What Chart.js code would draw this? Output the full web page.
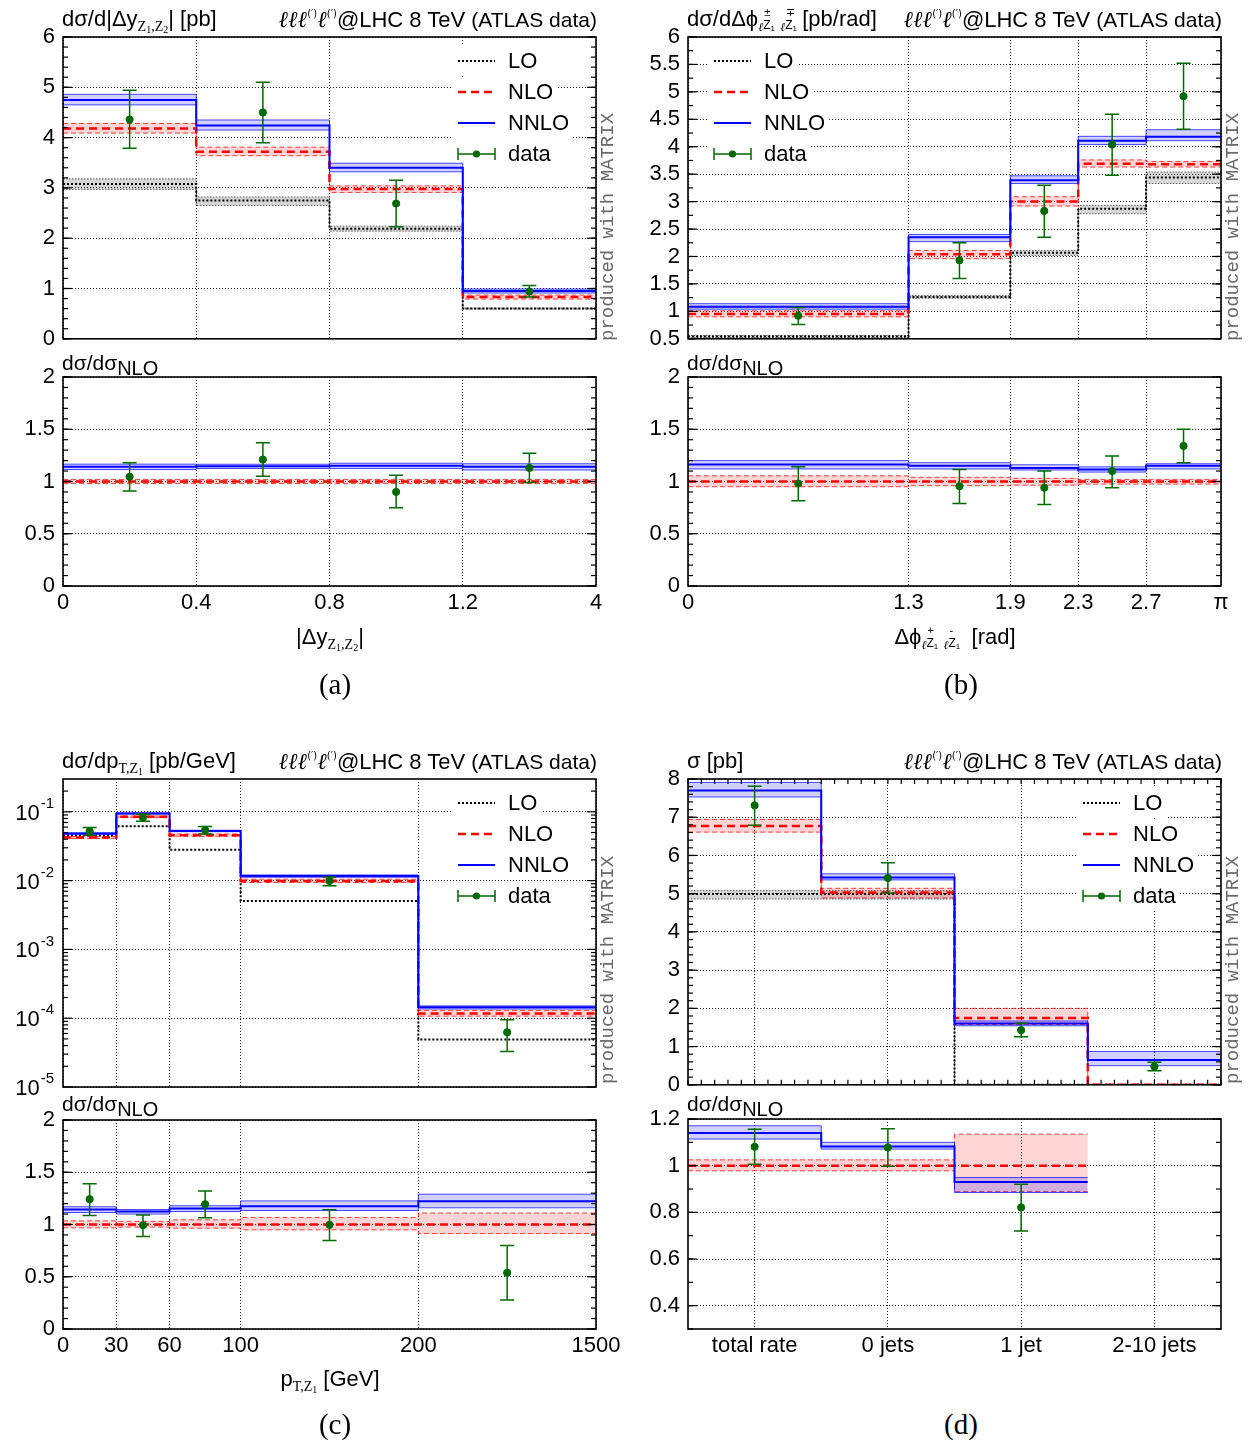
<!DOCTYPE html>
<html><head><meta charset="utf-8">
<script src="https://cdn.jsdelivr.net/npm/chart.js@4.4.1/dist/chart.umd.min.js"></script>
<style>
html,body{margin:0;padding:0;background:#fff}
body{width:1250px;height:1450px;position:relative;overflow:hidden;font-family:"Liberation Sans",Arial,sans-serif;color:#000}
canvas{position:absolute;z-index:1}
.t{position:absolute;white-space:nowrap;font-size:22px;line-height:1;z-index:5}
.rl{font-size:21px}
.sr{font-family:"Liberation Serif",serif;font-size:14px;position:relative;top:5px}
.sr small{font-size:10px;position:relative;top:2px}
.nlo{font-size:20px;position:relative;top:5px}
.ell{font-family:"DejaVu Serif",serif;font-style:italic;font-size:23px}
.pr{font-size:10px;position:relative;top:-10px;font-family:"DejaVu Sans",sans-serif}
.atl{font-size:21px}
.ax{font-size:22px}
.cap{font-family:"Liberation Serif",serif;font-size:29px}
.prod{position:absolute;white-space:nowrap;font-family:"Liberation Mono",monospace;font-size:19px;color:#6a6a6a;transform:rotate(-90deg);transform-origin:0 0;line-height:1;z-index:5}
.stk{display:inline-block;position:relative;width:17px;height:10px}
.stk .u{position:absolute;left:1px;top:-9px;font-size:11px}
.stk .d{position:absolute;left:0;top:3px;font-size:12px}
.stk .d small{font-size:8px;position:relative;top:2px}
.le{font-family:"DejaVu Serif",serif;font-style:italic;font-size:12px;position:relative;top:5px}
</style></head><body>

<!-- titles panel a -->
<div class="t" style="left:62px;top:8px">dσ/d|Δy<span class="sr">Z<small>1</small>,Z<small>2</small></span>| [pb]</div>
<div class="t" style="right:653px;top:8px"><span class="ell">ℓℓℓ</span><span class="pr">(′)</span><span class="ell">ℓ</span><span class="pr">(′)</span>@LHC 8 TeV <span class="atl">(ATLAS data)</span></div>
<div class="t rl" style="left:62px;top:352px">dσ/dσ<span class="nlo">NLO</span></div>
<div class="t ax" style="left:330px;top:626px;transform:translateX(-50%)">|Δy<span class="sr">Z<small>1</small>,Z<small>2</small></span>|</div>
<div class="t cap" style="left:335px;top:670px;transform:translateX(-50%)">(a)</div>
<div class="prod" style="left:599px;top:341px">produced with MATRIX</div>

<!-- titles panel b -->
<div class="t" style="left:687px;top:8px">dσ/dΔϕ<span class="le">ℓ</span><span class="stk"><span class="u">±</span><span class="d">Z<small>1</small></span></span><span class="le">ℓ</span><span class="stk"><span class="u">∓</span><span class="d">Z<small>1</small></span></span>[pb/rad]</div>
<div class="t" style="right:28px;top:8px"><span class="ell">ℓℓℓ</span><span class="pr">(′)</span><span class="ell">ℓ</span><span class="pr">(′)</span>@LHC 8 TeV <span class="atl">(ATLAS data)</span></div>
<div class="t rl" style="left:687px;top:352px">dσ/dσ<span class="nlo">NLO</span></div>
<div class="t ax" style="left:955px;top:626px;transform:translateX(-50%)">Δϕ<span class="le">ℓ</span><span class="stk"><span class="u">+</span><span class="d">Z<small>1</small></span></span><span class="le">ℓ</span><span class="stk"><span class="u">-</span><span class="d">Z<small>1</small></span></span> [rad]</div>
<div class="t cap" style="left:961px;top:670px;transform:translateX(-50%)">(b)</div>
<div class="prod" style="left:1224px;top:341px">produced with MATRIX</div>

<!-- titles panel c -->
<div class="t" style="left:62px;top:750px">dσ/dp<span class="sr">T,Z<small>1</small></span> [pb/GeV]</div>
<div class="t" style="right:653px;top:750px"><span class="ell">ℓℓℓ</span><span class="pr">(′)</span><span class="ell">ℓ</span><span class="pr">(′)</span>@LHC 8 TeV <span class="atl">(ATLAS data)</span></div>
<div class="t rl" style="left:62px;top:1093px">dσ/dσ<span class="nlo">NLO</span></div>
<div class="t ax" style="left:330px;top:1368px;transform:translateX(-50%)">p<span class="sr">T,Z<small>1</small></span> [GeV]</div>
<div class="t cap" style="left:335px;top:1410px;transform:translateX(-50%)">(c)</div>
<div class="prod" style="left:599px;top:1084px">produced with MATRIX</div>

<!-- titles panel d -->
<div class="t" style="left:687px;top:750px">σ [pb]</div>
<div class="t" style="right:28px;top:750px"><span class="ell">ℓℓℓ</span><span class="pr">(′)</span><span class="ell">ℓ</span><span class="pr">(′)</span>@LHC 8 TeV <span class="atl">(ATLAS data)</span></div>
<div class="t rl" style="left:687px;top:1093px">dσ/dσ<span class="nlo">NLO</span></div>
<div class="t cap" style="left:961px;top:1410px;transform:translateX(-50%)">(d)</div>
<div class="prod" style="left:1224px;top:1084px">produced with MATRIX</div>

<script>
// ================= DATA =================
const LEGEND_LABELS = ['LO', 'NLO', 'NNLO', 'data'];

// (a) |Δy_Z1,Z2|  (bins drawn with equal width)
const A_edges = [0, 1, 2, 3, 4];
const A_edgeLabels = ['0', '0.4', '0.8', '1.2', '4'];
const A_yTicks = [0, 1, 2, 3, 4, 5, 6];
const A_LO      = [3.08, 2.75, 2.19, 0.60];
const A_LO_lo   = [2.97, 2.65, 2.14, 0.59];
const A_LO_hi   = [3.18, 2.82, 2.24, 0.61];
const A_NLO     = [4.18, 3.72, 2.98, 0.83];
const A_NLO_lo  = [4.09, 3.64, 2.91, 0.79];
const A_NLO_hi  = [4.28, 3.81, 3.04, 0.87];
const A_NNLO    = [4.75, 4.24, 3.40, 0.95];
const A_NNLO_lo = [4.65, 4.15, 3.32, 0.91];
const A_NNLO_hi = [4.86, 4.35, 3.49, 0.99];
const A_data    = [4.36, 4.50, 2.69, 0.94];
const A_data_lo = [3.79, 3.90, 2.23, 0.83];
const A_data_hi = [4.94, 5.10, 3.15, 1.06];
const A_rNLO     = [1, 1, 1, 1];
const A_rNLO_lo  = [0.98, 0.98, 0.98, 0.98];
const A_rNLO_hi  = [1.02, 1.02, 1.02, 1.02];
const A_rNNLO    = [1.14, 1.146, 1.15, 1.14];
const A_rNNLO_lo = [1.115, 1.125, 1.125, 1.11];
const A_rNNLO_hi = [1.166, 1.165, 1.175, 1.17];
const A_rData    = [1.045, 1.21, 0.90, 1.13];
const A_rData_lo = [0.91, 1.05, 0.75, 0.99];
const A_rData_hi = [1.18, 1.37, 1.06, 1.27];

// (b) Δϕ
const B_edges = [0, 1.3, 1.9, 2.3, 2.7, Math.PI];
const B_edgeLabels = ['0', '1.3', '1.9', '2.3', '2.7', 'π'];
const B_yTicks = [0.5, 1, 1.5, 2, 2.5, 3, 3.5, 4, 4.5, 5, 5.5, 6];
const B_LO      = [0.54, 1.26, 2.07, 2.87, 3.44];
const B_LO_lo   = [0.52, 1.24, 2.02, 2.78, 3.33];
const B_LO_hi   = [0.56, 1.29, 2.11, 2.93, 3.54];
const B_NLO     = [0.95, 2.04, 3.00, 3.69, 3.68];
const B_NLO_lo  = [0.90, 1.96, 2.92, 3.63, 3.63];
const B_NLO_hi  = [1.01, 2.11, 3.09, 3.76, 3.73];
const B_NNLO    = [1.085, 2.35, 3.39, 4.11, 4.18];
const B_NNLO_lo = [1.04, 2.27, 3.33, 4.04, 4.11];
const B_NNLO_hi = [1.14, 2.40, 3.47, 4.19, 4.31];
const B_data    = [0.92, 1.93, 2.83, 4.04, 4.92];
const B_data_lo = [0.76, 1.60, 2.35, 3.48, 4.32];
const B_data_hi = [1.07, 2.25, 3.30, 4.59, 5.52];
const B_rNLO     = [1, 1, 1, 1, 1];
const B_rNLO_lo  = [0.95, 0.96, 0.965, 0.975, 0.975];
const B_rNLO_hi  = [1.054, 1.04, 1.03, 1.02, 1.02];
const B_rNNLO    = [1.162, 1.15, 1.13, 1.115, 1.15];
const B_rNNLO_lo = [1.12, 1.12, 1.11, 1.09, 1.12];
const B_rNNLO_hi = [1.20, 1.18, 1.16, 1.14, 1.17];
const B_rData    = [0.98, 0.955, 0.94, 1.10, 1.34];
const B_rData_lo = [0.815, 0.79, 0.78, 0.94, 1.18];
const B_rData_hi = [1.14, 1.115, 1.10, 1.245, 1.50];

// (c) pT,Z1 [GeV] (last bin 200-1500 drawn compressed)
const C_edges = [0, 30, 60, 100, 200, 1500];
const C_yTicks = [1e-5, 1e-4, 1e-3, 1e-2, 1e-1];
const C_LO      = [0.0452, 0.0618, 0.0282, 0.00506, 4.9e-5];
const C_NLO     = [0.0422, 0.0845, 0.0457, 0.00989, 1.17e-4];
const C_NLO_lo  = [0.0408, 0.0822, 0.0441, 0.0094, 1.07e-4];
const C_NLO_hi  = [0.0437, 0.0870, 0.0477, 0.0105, 1.30e-4];
const C_NNLO    = [0.0483, 0.0946, 0.0528, 0.0117, 1.44e-4];
const C_NNLO_lo = [0.0470, 0.0930, 0.0514, 0.0112, 1.36e-4];
const C_NNLO_hi = [0.0494, 0.0966, 0.0540, 0.0121, 1.51e-4];
const C_data    = [0.0524, 0.0827, 0.054, 0.0099, 6.25e-5];
const C_data_lo = [0.0457, 0.073, 0.0478, 0.0084, 3.27e-5];
const C_data_hi = [0.059, 0.093, 0.061, 0.0113, 9.5e-5];
const C_rNLO     = [1, 1, 1, 1, 1];
const C_rNLO_lo  = [0.968, 0.975, 0.965, 0.949, 0.914];
const C_rNLO_hi  = [1.035, 1.03, 1.045, 1.067, 1.11];
const C_rNNLO    = [1.143, 1.124, 1.153, 1.175, 1.223];
const C_rNNLO_lo = [1.115, 1.10, 1.124, 1.134, 1.16];
const C_rNNLO_hi = [1.17, 1.143, 1.18, 1.226, 1.29];
const C_rData    = [1.242, 0.994, 1.194, 0.997, 0.538];
const C_rData_lo = [1.086, 0.885, 1.064, 0.847, 0.277];
const C_rData_hi = [1.39, 1.092, 1.32, 1.14, 0.80];

// (d) jet multiplicity
const D_cats = ['total rate', '0 jets', '1 jet', '2-10 jets'];
const D_edges = [0, 1, 2, 3, 4];
const D_yTicks = [0, 1, 2, 3, 4, 5, 6, 7, 8];
const D_rTicks = [0.4, 0.6, 0.8, 1, 1.2];
const D_LO      = [4.99, 4.99, 0, 0];
const D_LO_lo   = [4.86, 4.86, 0, 0];
const D_LO_hi   = [5.08, 5.08, 0, 0];
const D_NLO     = [6.77, 5.03, 1.75, 0];
const D_NLO_lo  = [6.61, 4.885, 1.58, 0];
const D_NLO_hi  = [6.94, 5.14, 2.00, 0];
const D_NNLO    = [7.70, 5.42, 1.605, 0.65];
const D_NNLO_lo = [7.53, 5.36, 1.545, 0.50];
const D_NNLO_hi = [7.91, 5.52, 1.67, 0.87];
const D_data    = [7.31, 5.41, 1.43, 0.477];
const D_data_lo = [6.79, 5.02, 1.26, 0.37];
const D_data_hi = [7.81, 5.81, 1.61, 0.59];
const D_rNLO     = [1, 1, 1];
const D_rNLO_lo  = [0.978, 0.978, 0.889];
const D_rNLO_hi  = [1.025, 1.025, 1.135];
const D_rNNLO    = [1.14, 1.082, 0.93];
const D_rNNLO_lo = [1.114, 1.071, 0.885];
const D_rNNLO_hi = [1.171, 1.10, 0.949];
const D_rData    = [1.081, 1.078, 0.821];
const D_rData_lo = [1.006, 0.998, 0.72];
const D_rData_hi = [1.156, 1.158, 0.92];
const R_yTicks = [0, 0.5, 1, 1.5, 2];

// ================= HELPERS =================
const FONT = '"Liberation Sans", Arial, sans-serif';
const TICK_SIZE = 22;
const GREEN = 'rgb(0,105,0)';
const ST = {
  LO:   {color: '#000', width: 2, dash: [2, 2], fill: 'rgba(0,0,0,0.16)', edge: 'rgba(0,0,0,0.6)', edgeDash: [1.5, 1.5], order: 3},
  NLO:  {color: '#ff0000', width: 2.5, dash: [8, 5], fill: 'rgba(255,0,0,0.17)', edge: 'rgba(255,0,0,0.75)', edgeDash: [5, 3], order: 2},
  NNLO: {color: '#0000ff', width: 2, dash: [], fill: 'rgba(0,0,255,0.18)', edge: 'rgba(0,0,255,0.7)', edgeDash: [], order: 1}
};
// broken axis of panel (c): 200-1500 GeV drawn as wide as 100-200 GeV
const cPos = v => v <= 200 ? v : 200 + (v - 200) * 100 / 1300;

function steps(edges, vals) {
  const p = vals.map((v, i) => ({x: edges[i], y: v}));
  p.push({x: edges[vals.length], y: vals[vals.length - 1]});
  return p;
}
function mids(edges, n) {
  const m = [];
  for (let i = 0; i < n; i++) m.push((edges[i] + edges[i + 1]) / 2);
  return m;
}
function addGroup(ds, edges, c, lo, hi, st) {
  const base = ds.length;
  ds.push({data: steps(edges, c), borderColor: st.color, borderWidth: st.width, borderDash: st.dash,
           stepped: true, pointRadius: 0, fill: false, order: st.order});
  ds.push({data: steps(edges, hi), borderColor: st.edge, borderWidth: 1, borderDash: st.edgeDash,
           stepped: true, pointRadius: 0, fill: false, order: st.order});
  ds.push({data: steps(edges, lo), borderColor: st.edge, borderWidth: 1, borderDash: st.edgeDash,
           stepped: true, pointRadius: 0, fill: base + 1, backgroundColor: st.fill, order: st.order});
}
function addLine(ds, edges, c, st) {
  ds.push({data: steps(edges, c), borderColor: st.color, borderWidth: st.width, borderDash: st.dash,
           stepped: true, pointRadius: 0, fill: false, order: st.order});
}
function addData(ds, xs, v, lo, hi) {
  ds.unshift({data: v.map((y, i) => ({x: xs[i], y: y})), showLine: false, pointRadius: 3.6,
              pointBackgroundColor: GREEN, pointBorderColor: GREEN, borderColor: GREEN,
              errLo: lo, errHi: hi, order: 0});
}
// shift fill indices after data dataset was prepended
function fixFills(ds) {
  ds.forEach(d => { if (typeof d.fill === 'number') d.fill += 1; });
}
const numFmt = v => String(Math.round(v * 100) / 100);

// ================= PLUGINS =================
const framePlugin = {
  id: 'frame',
  afterDraw(chart, args, o) {
    const {ctx, chartArea: a} = chart;
    const ys = chart.scales.y, xs = chart.scales.x;
    ctx.save();
    ctx.strokeStyle = '#000';
    ctx.lineWidth = 1.2;
    const seg = (x1, y1, x2, y2) => { ctx.beginPath(); ctx.moveTo(x1, y1); ctx.lineTo(x2, y2); ctx.stroke(); };
    const yt = (v, L) => { const p = ys.getPixelForValue(v); if (p < a.top - 0.5 || p > a.bottom + 0.5) return; seg(a.left, p, a.left + L, p); seg(a.right, p, a.right - L, p); };
    ys.ticks.forEach(t => yt(t.value, 9));
    if (o.yMinor) {
      const n = Math.round((ys.max - ys.min) / o.yMinor);
      for (let i = 0; i <= n; i++) yt(ys.min + i * o.yMinor, 5);
    }
    if (o.logMinor) {
      for (let e = -5; e < 0; e++) for (let m = 2; m <= 9; m++) { const v = m * Math.pow(10, e); if (v <= ys.max) yt(v, 5); }
    }
    if (o.xMinor) {
      const n = Math.round((xs.max - xs.min) / o.xMinor);
      for (let i = 0; i <= n; i++) { const p = xs.getPixelForValue(xs.min + i * o.xMinor); seg(p, a.top, p, a.top + 5); seg(p, a.bottom, p, a.bottom - 5); }
    }
    ctx.lineWidth = 1.6;
    ctx.setLineDash([]);
    ctx.strokeRect(a.left, a.top, a.right - a.left, a.bottom - a.top);
    // power-of-ten labels for the logarithmic axis (10 with raised exponent)
    if (o.logLabels) {
      ctx.fillStyle = '#000';
      ctx.textAlign = 'right';
      ctx.textBaseline = 'middle';
      ys.ticks.forEach(t => {
        const p = ys.getPixelForValue(t.value);
        const es = String(Math.round(Math.log10(t.value)));
        ctx.font = '15px ' + FONT;
        const ew = ctx.measureText(es).width;
        const xr = a.left - 9;
        ctx.fillText(es, xr, p - 8);
        ctx.font = TICK_SIZE + 'px ' + FONT;
        ctx.fillText('10', xr - ew - 1, p + 2);
      });
    }
    ctx.restore();
  }
};
const keyPlugin = {
  id: 'keybox',
  beforeDatasetsDraw(chart, args, o) {
    if (!o || o.x == null) return;
    const {ctx, chartArea: a} = chart;
    ctx.save();
    ctx.font = '22px ' + FONT;
    ctx.textBaseline = 'middle';
    LEGEND_LABELS.forEach((lab, i) => {
      const y = a.top + 24 + i * 31;
      const kx = a.left + o.x;
      const tw = ctx.measureText(lab).width;
      ctx.fillStyle = '#fff';
      ctx.fillRect(kx - 6, y - 15, 50 + tw + 10, 30);
      ctx.setLineDash([]);
      if (lab === 'data') {
        ctx.strokeStyle = GREEN; ctx.lineWidth = 1.5;
        ctx.beginPath(); ctx.moveTo(kx, y); ctx.lineTo(kx + 37, y);
        ctx.moveTo(kx, y - 6); ctx.lineTo(kx, y + 6); ctx.moveTo(kx + 37, y - 6); ctx.lineTo(kx + 37, y + 6); ctx.stroke();
        ctx.fillStyle = GREEN; ctx.beginPath(); ctx.arc(kx + 18.5, y, 3.6, 0, 2 * Math.PI); ctx.fill();
      } else {
        const st = ST[lab];
        ctx.strokeStyle = st.color; ctx.lineWidth = st.width; ctx.setLineDash(st.dash);
        ctx.beginPath(); ctx.moveTo(kx, y); ctx.lineTo(kx + 37, y); ctx.stroke();
      }
      ctx.setLineDash([]);
      ctx.fillStyle = '#000';
      ctx.fillText(lab, kx + 50, y + 1);
    });
    ctx.restore();
  }
};
const errPlugin = {
  id: 'errbars',
  afterDatasetsDraw(chart) {
    const {ctx, chartArea: a} = chart;
    const ys = chart.scales.y;
    chart.data.datasets.forEach((ds, i) => {
      if (!ds.errLo) return;
      const meta = chart.getDatasetMeta(i);
      ctx.save();
      ctx.beginPath(); ctx.rect(a.left, a.top, a.right - a.left, a.bottom - a.top); ctx.clip();
      ctx.strokeStyle = ds.borderColor; ctx.lineWidth = 1.5;
      meta.data.forEach((pt, j) => {
        const x = pt.x, y1 = ys.getPixelForValue(ds.errLo[j]), y2 = ys.getPixelForValue(ds.errHi[j]);
        ctx.beginPath();
        ctx.moveTo(x, y1); ctx.lineTo(x, y2);
        ctx.moveTo(x - 7, y1); ctx.lineTo(x + 7, y1);
        ctx.moveTo(x - 7, y2); ctx.lineTo(x + 7, y2);
        ctx.stroke();
      });
      ctx.restore();
    });
  }
};

// ================= CHART FACTORY =================
function makeChart(box, area, cfg) {
  const cv = document.createElement('canvas');
  cv.width = box.w; cv.height = box.h;
  cv.style.left = box.x + 'px'; cv.style.top = box.y + 'px';
  cv.style.width = box.w + 'px'; cv.style.height = box.h + 'px';
  document.body.appendChild(cv);
  const yW = area.l - box.x, padTop = area.t - box.y, padRight = box.x + box.w - area.r, xH = box.y + box.h - area.b;
  const gridCol = 'rgba(0,0,0,0.85)';
  new Chart(cv.getContext('2d'), {
    type: 'line',
    data: {datasets: cfg.datasets},
    options: {
      responsive: false, animation: false, devicePixelRatio: 1,
      layout: {padding: {top: padTop, right: padRight, left: 0, bottom: 0}},
      plugins: {legend: {display: false}, tooltip: {enabled: false}, frame: cfg.frame || {}, keybox: cfg.key || {}},
      scales: {
        x: {
          type: 'linear', min: cfg.xmin, max: cfg.xmax,
          afterBuildTicks: s => { s.ticks = cfg.xticks.map(v => ({value: v})); },
          afterFit: s => { s.height = xH; },
          grid: {color: gridCol, lineWidth: 1, drawTicks: false},
          border: {display: false, dash: [1, 2]},
          ticks: {display: !!cfg.xlabels, callback: (v, i) => cfg.xlabels ? cfg.xlabels[i] : '',
                  font: {family: FONT, size: TICK_SIZE}, color: '#000', padding: 4, autoSkip: false, maxRotation: 0}
        },
        y: {
          type: cfg.ylog ? 'logarithmic' : 'linear', min: cfg.ymin, max: cfg.ymax,
          afterBuildTicks: s => { s.ticks = cfg.yticks.map(v => ({value: v})); },
          afterFit: s => { s.width = yW; },
          grid: {color: gridCol, lineWidth: 1, drawTicks: false},
          border: {display: false, dash: [1, 2]},
          ticks: {display: !cfg.ylog, callback: numFmt, font: {family: FONT, size: TICK_SIZE}, color: '#000', padding: 8, autoSkip: false}
        }
      }
    },
    plugins: [framePlugin, keyPlugin, errPlugin]
  });
}

// ================= PANEL (a) =================
(function () {
  const ds = [];
  addGroup(ds, A_edges, A_NNLO, A_NNLO_lo, A_NNLO_hi, ST.NNLO);
  addGroup(ds, A_edges, A_NLO, A_NLO_lo, A_NLO_hi, ST.NLO);
  addGroup(ds, A_edges, A_LO, A_LO_lo, A_LO_hi, ST.LO);
  addData(ds, mids(A_edges, 4), A_data, A_data_lo, A_data_hi);
  fixFills(ds);
  makeChart({x: 0, y: 0, w: 625, h: 360}, {l: 63, t: 37, r: 596, b: 343},
    {datasets: ds, xmin: 0, xmax: 4, xticks: A_edges, xlabels: null, ymin: 0, ymax: 6, yticks: A_yTicks,
     frame: {yMinor: 0.2}, key: {x: 395}});
  const r = [];
  addGroup(r, A_edges, A_rNNLO, A_rNNLO_lo, A_rNNLO_hi, ST.NNLO);
  addGroup(r, A_edges, A_rNLO, A_rNLO_lo, A_rNLO_hi, ST.NLO);
  addData(r, mids(A_edges, 4), A_rData, A_rData_lo, A_rData_hi);
  fixFills(r);
  makeChart({x: 0, y: 350, w: 625, h: 300}, {l: 63, t: 377, r: 596, b: 586},
    {datasets: r, xmin: 0, xmax: 4, xticks: A_edges, xlabels: A_edgeLabels, ymin: 0, ymax: 2, yticks: R_yTicks,
     frame: {yMinor: 0.1}});
})();

// ================= PANEL (b) =================
(function () {
  const ds = [];
  addGroup(ds, B_edges, B_NNLO, B_NNLO_lo, B_NNLO_hi, ST.NNLO);
  addGroup(ds, B_edges, B_NLO, B_NLO_lo, B_NLO_hi, ST.NLO);
  addGroup(ds, B_edges, B_LO, B_LO_lo, B_LO_hi, ST.LO);
  addData(ds, mids(B_edges, 5), B_data, B_data_lo, B_data_hi);
  fixFills(ds);
  makeChart({x: 625, y: 0, w: 625, h: 360}, {l: 688, t: 37, r: 1221, b: 343},
    {datasets: ds, xmin: 0, xmax: Math.PI, xticks: B_edges, xlabels: null, ymin: 0.5, ymax: 6, yticks: B_yTicks,
     frame: {yMinor: 0.25}, key: {x: 26}});
  const r = [];
  addGroup(r, B_edges, B_rNNLO, B_rNNLO_lo, B_rNNLO_hi, ST.NNLO);
  addGroup(r, B_edges, B_rNLO, B_rNLO_lo, B_rNLO_hi, ST.NLO);
  addData(r, mids(B_edges, 5), B_rData, B_rData_lo, B_rData_hi);
  fixFills(r);
  makeChart({x: 625, y: 350, w: 625, h: 300}, {l: 688, t: 377, r: 1221, b: 586},
    {datasets: r, xmin: 0, xmax: Math.PI, xticks: B_edges, xlabels: B_edgeLabels, ymin: 0, ymax: 2, yticks: R_yTicks,
     frame: {yMinor: 0.1}});
})();

// ================= PANEL (c) =================
(function () {
  const E = C_edges.map(cPos);
  const ds = [];
  addGroup(ds, E, C_NNLO, C_NNLO_lo, C_NNLO_hi, ST.NNLO);
  addGroup(ds, E, C_NLO, C_NLO_lo, C_NLO_hi, ST.NLO);
  addLine(ds, E, C_LO, ST.LO);
  addData(ds, mids(E, 5), C_data, C_data_lo, C_data_hi);
  fixFills(ds);
  makeChart({x: 0, y: 740, w: 625, h: 366}, {l: 63, t: 779, r: 596, b: 1087},
    {datasets: ds, xmin: 0, xmax: cPos(1500), xticks: E, xlabels: null, ylog: true, ymin: 1e-5, ymax: 0.3, yticks: C_yTicks,
     frame: {logMinor: true, logLabels: true}, key: {x: 395}});
  const r = [];
  addGroup(r, E, C_rNNLO, C_rNNLO_lo, C_rNNLO_hi, ST.NNLO);
  addGroup(r, E, C_rNLO, C_rNLO_lo, C_rNLO_hi, ST.NLO);
  addData(r, mids(E, 5), C_rData, C_rData_lo, C_rData_hi);
  fixFills(r);
  makeChart({x: 0, y: 1095, w: 625, h: 300}, {l: 63, t: 1120, r: 596, b: 1329},
    {datasets: r, xmin: 0, xmax: cPos(1500), xticks: E, xlabels: C_edges.map(String), ymin: 0, ymax: 2, yticks: R_yTicks,
     frame: {yMinor: 0.1}});
})();

// ================= PANEL (d) =================
(function () {
  const centers = mids(D_edges, 4);
  const ds = [];
  addGroup(ds, D_edges, D_NNLO, D_NNLO_lo, D_NNLO_hi, ST.NNLO);
  addGroup(ds, D_edges, D_NLO, D_NLO_lo, D_NLO_hi, ST.NLO);
  addGroup(ds, D_edges, D_LO, D_LO_lo, D_LO_hi, ST.LO);
  addData(ds, centers, D_data, D_data_lo, D_data_hi);
  fixFills(ds);
  makeChart({x: 625, y: 740, w: 625, h: 366}, {l: 688, t: 779, r: 1221, b: 1087},
    {datasets: ds, xmin: 0, xmax: 4, xticks: centers, xlabels: null, ymin: 0, ymax: 8, yticks: D_yTicks,
     frame: {yMinor: 0.2, xMinor: 0.1}, key: {x: 395}});
  const r = [];
  addGroup(r, D_edges, D_rNNLO, D_rNNLO_lo, D_rNNLO_hi, ST.NNLO);
  addGroup(r, D_edges, D_rNLO, D_rNLO_lo, D_rNLO_hi, ST.NLO);
  addData(r, centers.slice(0, 3), D_rData, D_rData_lo, D_rData_hi);
  fixFills(r);
  makeChart({x: 625, y: 1095, w: 625, h: 300}, {l: 688, t: 1119, r: 1221, b: 1329},
    {datasets: r, xmin: 0, xmax: 4, xticks: centers, xlabels: D_cats, ymin: 0.3, ymax: 1.2, yticks: D_rTicks,
     frame: {yMinor: 0.1}});
})();
</script>
</body></html>
